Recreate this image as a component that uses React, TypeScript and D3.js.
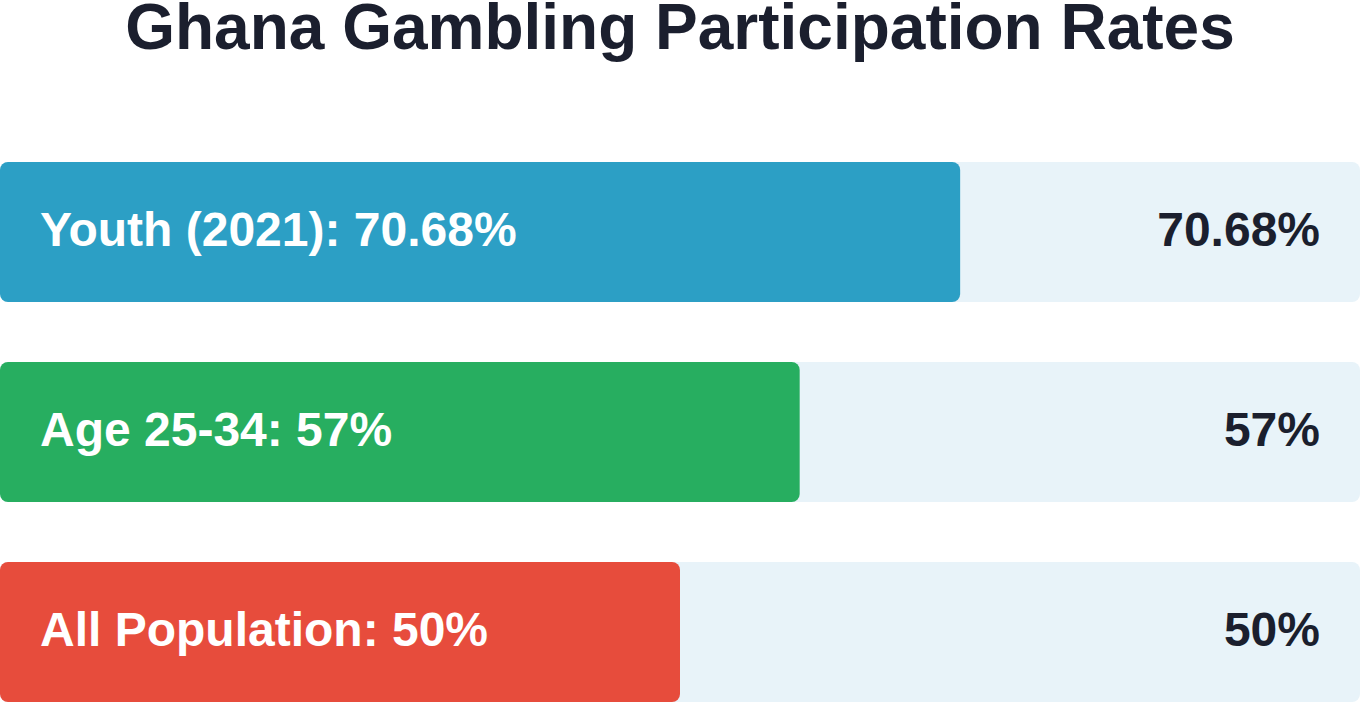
import React from "react";
import * as d3 from "d3";

const categories = ["Youth (2021)", "Age 25-34", "All Population"];
const rates = [70.68, 57, 50];
const rateLabels = ["70.68%", "57%", "50%"];
// Filled length of each bar (percent of track)
const barLengths = [70.6, 58.8, 50];
const colors = ["#2c9fc5", "#27ae60", "#e74c3c"];

const W = 1360;
const H = 702;

export default function App() {
  const x = d3.scaleLinear().domain([0, 100]).range([0, W]);
  const y = d3
    .scaleBand<string>()
    .domain(categories)
    .range([162, 702])
    .paddingInner(0.3)
    .paddingOuter(0);
  const font = "'Liberation Sans', Arial, Helvetica, sans-serif";
  return (
    <svg
      width={W}
      height={H}
      style={{ position: "absolute", left: 0, top: 0, display: "block" }}
      fontFamily={font}
    >
      <rect width={W} height={H} fill="#ffffff" />
      <text
        x={W / 2}
        y={49}
        textAnchor="middle"
        fontSize={64}
        fontWeight="bold"
        fill="#1b1f2e"
      >
        Ghana Gambling Participation Rates
      </text>
      {categories.map((c, i) => {
        const y0 = y(c)!;
        const bh = y.bandwidth();
        const cy = y0 + bh / 2 - 3;
        return (
          <g key={c}>
            <rect x={x(0)} y={y0} width={x(100) - x(0)} height={bh} rx={8} fill="#e8f3f9" />
            <rect x={x(0)} y={y0} width={x(barLengths[i]) - x(0)} height={bh} rx={8} fill={colors[i]} />
            <text
              x={40}
              y={cy}
              dy="0.35em"
              fontSize={48}
              fontWeight="bold"
              fill="#ffffff"
            >
              {`${c}: ${d3.format("")(rates[i])}%`}
            </text>
            <text
              x={W - 40}
              y={cy}
              dy="0.35em"
              textAnchor="end"
              fontSize={48}
              fontWeight="bold"
              fill="#1b1f2e"
            >
              {rateLabels[i]}
            </text>
          </g>
        );
      })}
    </svg>
  );
}
